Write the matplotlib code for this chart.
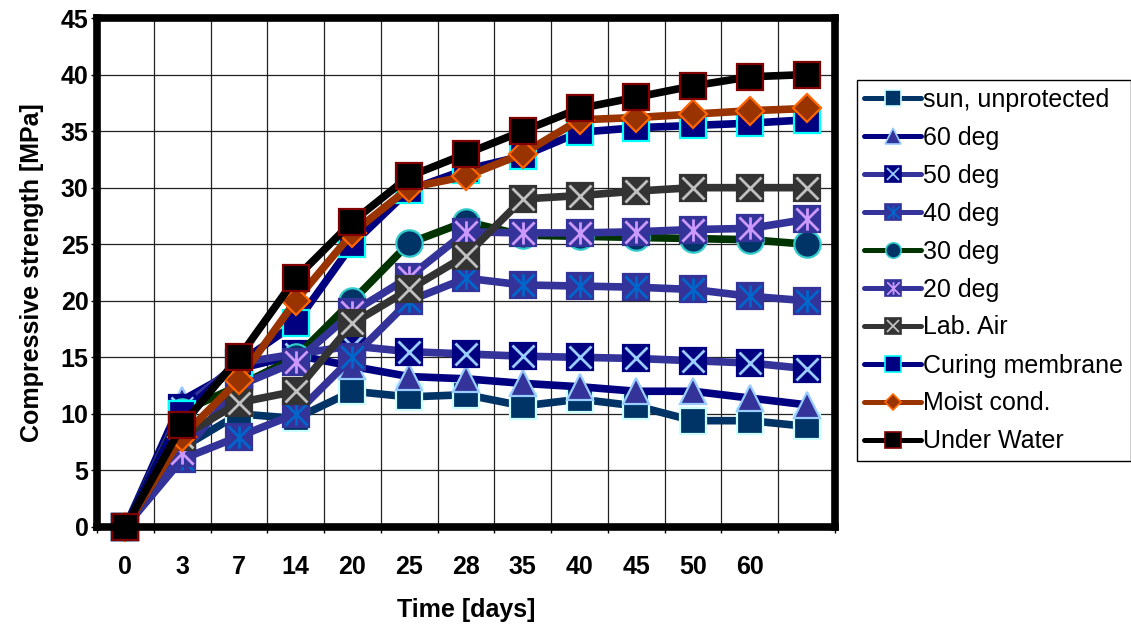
import matplotlib
matplotlib.use('Agg')
import matplotlib.pyplot as plt
from matplotlib.lines import Line2D
from matplotlib.path import Path
from matplotlib.ticker import FixedLocator

# chart data (13 curing ages, last one has no label)
days = ['0', '3', '7', '14', '20', '25', '28', '35', '40', '45', '50', '60', '']
series_names = ['sun, unprotected', '60 deg', '50 deg', '40 deg', '30 deg',
                '20 deg', 'Lab. Air', 'Curing membrane', 'Moist cond.', 'Under Water']

sun = [0, 7, 10, 9.6, 12, 11.5, 11.7, 10.7, 11.3, 10.7, 9.4, 9.4, 8.9]
deg60 = [0, 11.2, 14, 15.2, 14.2, 13.3, 13.1, 12.7, 12.4, 12.0, 12.0, 11.4, 10.8]
deg50 = [0, 10.5, 14.5, 15.3, 16.0, 15.5, 15.3, 15.1, 15.0, 14.9, 14.7, 14.5, 14.0]
deg40 = [0, 6, 8, 10, 15, 20, 22, 21.4, 21.3, 21.2, 21.0, 20.4, 20.0]
deg30 = [0, 10.2, 12.5, 15, 20, 25.1, 27, 25.8, 25.7, 25.6, 25.5, 25.4, 25.0]
deg20 = [0, 6.5, 12.5, 14.6, 19, 22.1, 26.1, 26, 26, 26.1, 26.3, 26.4, 27.2]
lab_air = [0, 8, 11, 12, 18, 21, 24, 29, 29.3, 29.7, 30, 30, 30]
curing = [0, 10, 14.5, 18, 25, 29.8, 31.6, 32.8, 34.9, 35.3, 35.5, 35.7, 36]
moist = [0, 8, 13, 20, 26, 30, 31, 33, 36, 36.2, 36.5, 36.8, 37]
water = [0, 9, 15, 22, 27, 31, 33, 35, 37, 38, 39, 39.8, 40]

all_values = [sun, deg60, deg50, deg40, deg30, deg20, lab_air, curing, moist, water]

# excel style asterisk: X plus vertical bar
asterisk = Path([(-1, -1), (1, 1), (-1, 1), (1, -1), (0, -1), (0, 1)],
                [Path.MOVETO, Path.LINETO] * 3)

# line colour, marker, face, edge, overlay marker, overlay colour
styles = [
    ('#003366', 's', '#003366', '#CCFFFF', None, None),
    ('#000080', '^', '#333399', '#99CCFF', None, None),
    ('#333399', 's', '#000080', '#000080', 'x', '#99CCFF'),
    ('#333399', 's', '#333399', '#333399', asterisk, '#0066CC'),
    ('#003300', 'o', '#003366', '#33CCCC', None, None),
    ('#333399', 's', '#333399', '#333399', asterisk, '#CC99FF'),
    ('#333333', 's', '#333333', '#333333', 'x', '#C0C0C0'),
    ('#000080', 's', '#000080', '#00FFFF', None, None),
    ('#993300', 'D', '#993300', '#FF6600', None, None),
    ('#000000', 's', '#000000', '#800000', None, None),
]

plt.rcParams['font.family'] = ['Liberation Sans', 'DejaVu Sans']

fig = plt.figure(figsize=(11.31, 6.26), dpi=100)
ax = fig.add_axes([97 / 1131, 99 / 626, 738 / 1131, 509 / 626])

x = list(range(len(days)))
handles = []
for i, (vals, st) in enumerate(zip(all_values, styles)):
    lc, mk, fc, ec, ov, oc = st
    ms = 14.3 if mk == 'D' else 19
    ax.plot(x, vals, color=lc, lw=5.5, marker=mk, ms=ms, mfc=fc, mec=ec,
            mew=1.6, zorder=3 + 2 * i, clip_on=False, solid_capstyle='round')
    lms = 8 if mk == 'D' else 11
    h = Line2D([], [], color=lc, lw=3.6, marker=mk, ms=lms, mfc=fc, mec=ec,
               mew=1.2, solid_capstyle='round')
    if ov is not None:
        ax.plot(x, vals, ls='none', marker=ov, ms=16, mec=oc, mew=2,
                zorder=4 + 2 * i, clip_on=False)
        h = (h, Line2D([], [], ls='none', marker=ov, ms=9, mec=oc, mew=1.3))
    handles.append(h)

ax.set_xlim(-0.5, len(days) - 0.5)
ax.set_ylim(0, 45)
ax.set_yticks(range(0, 46, 5))
ax.set_xticks(x)
ax.set_xticklabels(days)
ax.xaxis.set_minor_locator(FixedLocator([i + 0.5 for i in range(-1, len(days))]))

ax.grid(axis='y', color='#222222', lw=0.9)
ax.grid(axis='x', which='minor', color='#222222', lw=0.9)
ax.set_axisbelow(True)

for sp in ax.spines.values():
    sp.set_linewidth(5.5)
    sp.set_color('black')
    sp.set_zorder(30)

ax.tick_params(axis='x', which='major', length=0, pad=20, labelsize=18)
ax.tick_params(axis='x', which='minor', length=4, width=1, direction='out')
ax.tick_params(axis='y', length=4, width=1, direction='out', pad=2, labelsize=18)
for lbl in ax.get_xticklabels() + ax.get_yticklabels():
    lbl.set_fontweight('bold')

ax.set_xlabel('Time [days]', fontsize=18, fontweight='bold', labelpad=14)
ax.set_ylabel('Compressive strength [MPa]', fontsize=18, fontweight='bold', labelpad=12)

leg = fig.legend(handles, series_names, loc='upper left',
                 bbox_to_anchor=(857 / 1131, 1 - 80 / 626), borderaxespad=0,
                 fontsize=18, frameon=True, fancybox=False, framealpha=1,
                 edgecolor='black', handlelength=2.25, handletextpad=0.1,
                 labelspacing=0.56, borderpad=0.3)
leg.get_frame().set_linewidth(1)

fig.savefig('out.png', dpi=100)
